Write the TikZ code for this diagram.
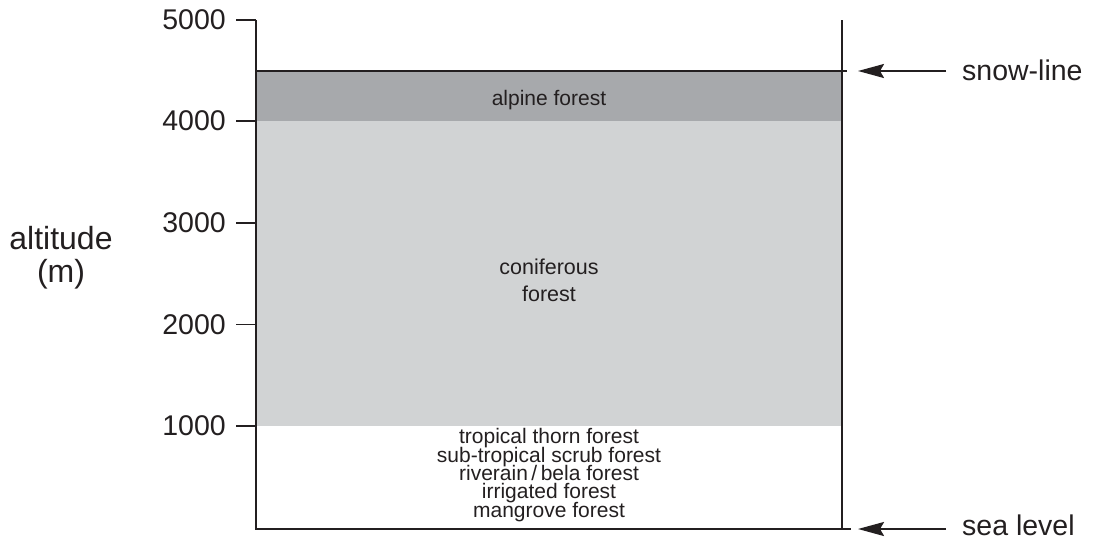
\documentclass[tikz,border=0pt]{standalone}
\usepackage{fontspec}
\setmainfont{Liberation Sans}
\usetikzlibrary{arrows.meta}
\definecolor{ink}{HTML}{231F20}
\definecolor{darkband}{HTML}{A7A9AC}
\definecolor{lightband}{HTML}{D1D3D4}
\newcommand{\tightlines}{\lineskiplimit=-30pt\relax\lineskip=0pt\relax}
\begin{document}
\begin{tikzpicture}[x=1pt,y=-1pt,
  axisline/.style={draw=ink,line width=2.9pt},
  tickline/.style={draw=ink,line width=1.8pt},
  ticklabel/.style={anchor=east,inner sep=0pt,font=\fontsize{28.5}{30}\selectfont,text=ink},
  biglabel/.style={anchor=west,inner sep=0pt,font=\fontsize{28.5}{30}\selectfont,text=ink},
  zonelabel/.style={align=center,inner sep=0pt,font=\fontsize{21}{18.4}\selectfont\tightlines,text=ink},
  pointer/.style={draw=ink,line width=2.2pt,-{Stealth[length=26pt,width=14pt,inset=4pt]}}]
\useasboundingbox (0,0) rectangle (1093,541);
% bands
\fill[darkband] (256,71) rectangle (842,121);
\fill[lightband] (256,121) rectangle (842,426);
% coordinates
\coordinate (lt) at (256,20);
\coordinate (lb) at (256,529);
\coordinate (rt) at (842,20);
\coordinate (rb) at (842,529);
\coordinate (sl) at (256,71);
\coordinate (sr) at (847,71);
\coordinate (br) at (850,529);
\coordinate (snowtip) at (858,71);
\coordinate (seatip) at (858,529);
% axes
\draw[axisline] (lt) -- (lb);
\draw[axisline] (rt) -- (rb);
\draw[axisline] (sl) -- (sr);
\draw[axisline,line cap=rect] (lb) -- (br);
% ticks
\foreach \v/\y in {5000/20,4000/121,3000/223,2000/324.5,1000/426}{
  \coordinate (t\v) at (256,\y);
  \coordinate (s\v) at (236,\y);
  \draw[tickline] (s\v) -- (t\v);
  \node[ticklabel] (n\v) at (226,\y) {\v};
}
% axis title
\node[align=center,inner sep=0pt,font=\fontsize{32}{33}\selectfont,text=ink] (alt) at (61,258) {altitude\\(m)};
% zone labels
\node[zonelabel] (alpine) at (549,100) {alpine forest};
\node[zonelabel,font=\fontsize{21.5}{27}\selectfont] (conif) at (549,280) {coniferous\\forest};
\node[zonelabel] (low) at (549,475) {tropical thorn forest\\sub-tropical scrub forest\\riverain\,/\,bela forest\\irrigated forest\\mangrove forest};
% right labels and arrows
\node[biglabel] (snow) at (962,70) {snow-line};
\node[biglabel] (sea) at (962,525) {sea level};
\coordinate (snowtail) at (946,71);
\coordinate (seatail) at (946,529);
\draw[pointer] (snowtail) -- (snowtip);
\draw[pointer] (seatail) -- (seatip);
\end{tikzpicture}
\end{document}
